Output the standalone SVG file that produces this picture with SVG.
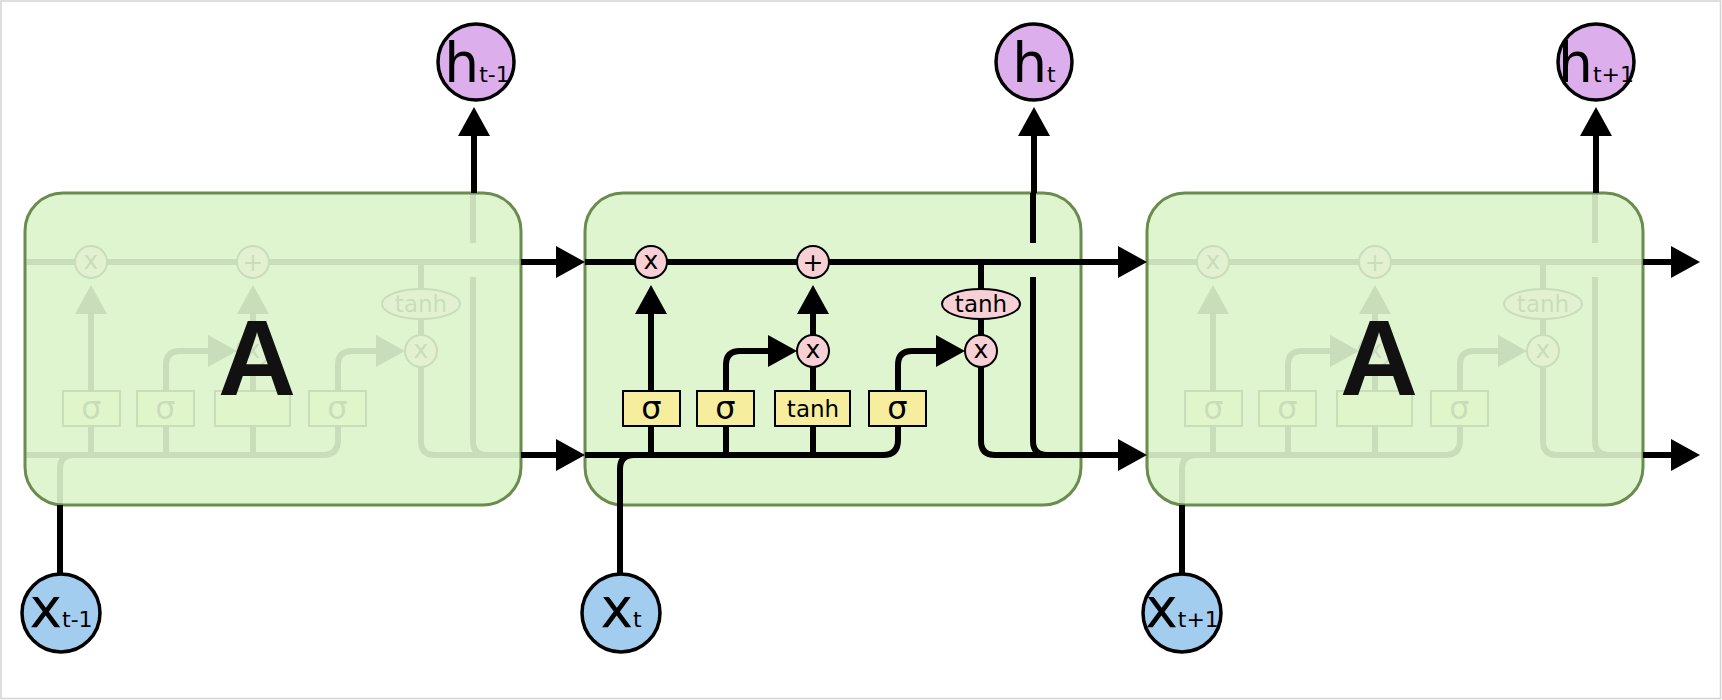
<svg xmlns="http://www.w3.org/2000/svg" xmlns:xlink="http://www.w3.org/1999/xlink" width="1722" height="700" viewBox="0 0 1722 700">
<style>
.ln{fill:none;stroke:#000;stroke-width:6}
.gate{fill:#f7d0d5;stroke:#000;stroke-width:2}
.layer{fill:#f6ee9e;stroke:#000;stroke-width:2}
.box{fill:#dff5cf;stroke:#6a8c4e;stroke-width:3}
.boxfill{fill:#dff5cf}
.veil{fill:#dff5cf;fill-opacity:0.9;stroke:#6a8c4e;stroke-width:3}
.hc{fill:#ddaeec;stroke:#000;stroke-width:3.5}
.xc{fill:#a3cdee;stroke:#000;stroke-width:3.5}
text{font-family:"DejaVu Sans",Verdana,sans-serif;fill:#000}
.op{font-size:25px;text-anchor:middle}
.sg{font-size:32px;text-anchor:middle}
.tn{font-size:23px;text-anchor:middle}
.big{font-size:55px;text-anchor:middle}
.sub{font-size:22px}
.A{font-family:"Liberation Sans",Arial,sans-serif;font-weight:bold;font-size:108px;text-anchor:middle;fill:#111}
</style>
<defs>
<marker id="ah" viewBox="0 -16 29 32" refX="0" refY="0" markerWidth="29" markerHeight="32" markerUnits="userSpaceOnUse" orient="auto"><path d="M0,-16 L29,0 L0,16 Z" fill="#000"/></marker>
</defs>
<rect x="1" y="1" width="1719.5" height="697.5" fill="#fff" stroke="#d4d4d4" stroke-width="1.5"/>

<!-- faded cell t-1 -->
<g id="cell-prev">
<rect class="boxfill" x="25" y="193" width="496" height="312" rx="38"/>
<use xlink:href="#cell-core" href="#cell-core" transform="translate(-560,0)"/>
<rect class="veil" x="25" y="193" width="496" height="312" rx="38"/>
<text class="A" x="257" y="395">A</text>
</g>

<!-- faded cell t+1 -->
<g id="cell-next">
<rect class="boxfill" x="1147" y="193" width="496" height="312" rx="38"/>
<use xlink:href="#cell-core" href="#cell-core" transform="translate(562,0)"/>
<rect class="veil" x="1147" y="193" width="496" height="312" rx="38"/>
<text class="A" x="1379" y="395">A</text>
</g>

<!-- detailed cell t -->
<g id="cell-t">
<rect class="box" x="585" y="193" width="496" height="312" rx="38"/>
</g>
<g id="cell-core" transform="translate(585,0)">
  <g id="cell-links">
    <path class="ln" d="M0,262 H496"/>
    <path class="ln" d="M0,455 H298 Q313,455 313,440 V426"/>
    <path class="ln" d="M35,505 V469 Q35,455 49,455"/>
    <path class="ln" d="M66,455 V426"/>
    <path class="ln" d="M66,391 V314" marker-end="url(#ah)"/>
    <path class="ln" d="M141,455 V426"/>
    <path class="ln" d="M141,391 V365 Q141,351 155,351 H183" marker-end="url(#ah)"/>
    <path class="ln" d="M228,455 V426"/>
    <path class="ln" d="M228,391 V367"/>
    <path class="ln" d="M228,335 V314" marker-end="url(#ah)"/>
    <path class="ln" d="M313,391 V365 Q313,351 327,351 H351" marker-end="url(#ah)"/>
    <path class="ln" d="M396,262 V289"/>
    <path class="ln" d="M396,319 V335"/>
    <path class="ln" d="M396,367 V441 Q396,455 410,455 H496"/>
    <path class="ln" d="M448,277 V441 Q448,455 462,455"/>
    <path class="ln" d="M448,243 V193"/>
  </g>
  <g id="forget-mul"><circle class="gate" cx="66" cy="262" r="16"/><text class="op" x="66" y="269">x</text></g>
  <g id="cell-add"><circle class="gate" cx="228" cy="262" r="16"/><text class="op" x="228" y="270.5">+</text></g>
  <g id="input-mul"><circle class="gate" cx="228" cy="351" r="16"/><text class="op" x="228" y="358">x</text></g>
  <g id="output-mul"><circle class="gate" cx="396" cy="351" r="16"/><text class="op" x="396" y="358">x</text></g>
  <g id="cell-tanh"><ellipse class="gate" cx="396" cy="304" rx="39" ry="15"/><text class="tn" x="396" y="312">tanh</text></g>
  <g id="forget-sigma"><rect class="layer" x="38" y="391" width="57" height="35"/><text class="sg" x="66.5" y="419">σ</text></g>
  <g id="input-sigma"><rect class="layer" x="112" y="391" width="57" height="35"/><text class="sg" x="140.5" y="419">σ</text></g>
  <g id="candidate-tanh"><rect class="layer" x="190" y="391" width="75" height="35"/></g>
  <g id="output-sigma"><rect class="layer" x="284" y="391" width="57" height="35"/><text class="sg" x="312.5" y="419">σ</text></g>
</g>
<text class="tn" x="813" y="417">tanh</text>

<g id="connectors">
  <path class="ln" d="M474,193 V136" marker-end="url(#ah)"/>
  <path class="ln" d="M1034,193 V136" marker-end="url(#ah)"/>
  <path class="ln" d="M1596,193 V136" marker-end="url(#ah)"/>
  <path class="ln" d="M60,573 V505"/>
  <path class="ln" d="M620,573 V505"/>
  <path class="ln" d="M1182,573 V505"/>
  <path class="ln" d="M521,262 H556" marker-end="url(#ah)"/>
  <path class="ln" d="M521,455 H556" marker-end="url(#ah)"/>
  <path class="ln" d="M1081,262 H1118" marker-end="url(#ah)"/>
  <path class="ln" d="M1081,455 H1118" marker-end="url(#ah)"/>
  <path class="ln" d="M1643,262 H1671" marker-end="url(#ah)"/>
  <path class="ln" d="M1643,455 H1671" marker-end="url(#ah)"/>
</g>

<g id="h-prev"><circle class="hc" cx="476" cy="62" r="38"/><text class="big" x="477" y="82">h<tspan class="sub">t-1</tspan></text></g>
<g id="h-t"><circle class="hc" cx="1034" cy="62" r="38"/><text class="big" x="1034" y="82">h<tspan class="sub">t</tspan></text></g>
<g id="h-next"><circle class="hc" cx="1596" cy="62" r="38"/><text class="big" x="1596" y="82">h<tspan class="sub">t+1</tspan></text></g>
<g id="x-prev"><circle class="xc" cx="61" cy="613" r="39"/><text class="big" x="61" y="627">x<tspan class="sub">t-1</tspan></text></g>
<g id="x-t"><circle class="xc" cx="621" cy="613" r="39"/><text class="big" x="621" y="627">x<tspan class="sub">t</tspan></text></g>
<g id="x-next"><circle class="xc" cx="1182" cy="613" r="39"/><text class="big" x="1182" y="627">x<tspan class="sub">t+1</tspan></text></g>
</svg>
